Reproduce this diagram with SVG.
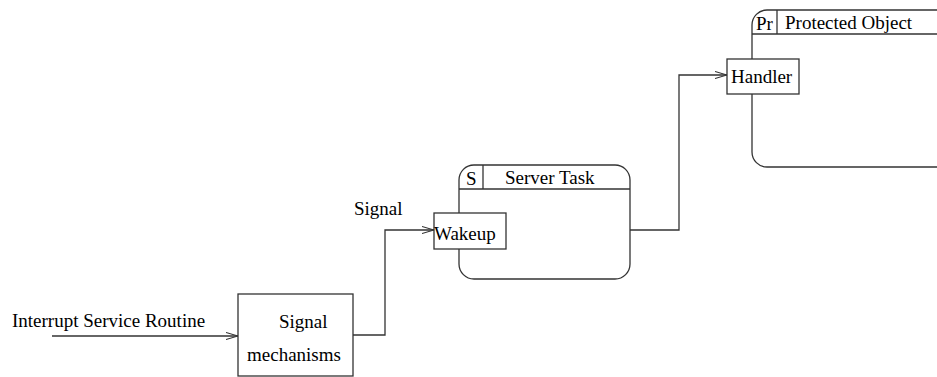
<svg xmlns="http://www.w3.org/2000/svg" width="937" height="377" viewBox="0 0 937 377">
  <style>
    .shape { fill: #ffffff; stroke: #333333; stroke-width: 1.3; }
    .line { fill: none; stroke: #333333; stroke-width: 1.3; }
    .label { font-family: "Liberation Serif", "DejaVu Serif", serif; font-size: 19px; fill: #000000; }
  </style>
  <defs>
    <marker id="openArrow" viewBox="0 0 12 8" refX="12" refY="4" markerWidth="12" markerHeight="8" markerUnits="userSpaceOnUse" orient="auto">
      <path d="M0,0.5 L12,4 L0,7.5" fill="none" stroke="#333333" stroke-width="1.1"/>
    </marker>
  </defs>

  <!-- Protected Object -->
  <g id="protected-object">
    <rect class="shape" x="752" y="10" width="200" height="157" rx="15" ry="15"/>
    <line class="line" x1="752" y1="34" x2="937" y2="34"/>
    <line class="line" x1="777" y1="10" x2="777" y2="34"/>
    <text class="label" x="756" y="30">Pr</text>
    <text class="label" x="785" y="29">Protected Object</text>
  </g>

  <g id="handler">
    <rect class="shape" x="727" y="59" width="72" height="35"/>
    <text class="label" x="731" y="83">Handler</text>
  </g>

  <!-- Server Task -->
  <g id="server-task">
    <rect class="shape" x="459" y="165" width="171" height="114" rx="15" ry="15"/>
    <line class="line" x1="459" y1="189" x2="630" y2="189"/>
    <line class="line" x1="483" y1="165" x2="483" y2="189"/>
    <text class="label" x="466" y="185">S</text>
    <text class="label" x="505" y="184">Server Task</text>
  </g>

  <g id="wakeup">
    <rect class="shape" x="434" y="213" width="72" height="36"/>
    <text class="label" x="434" y="240">Wakeup</text>
  </g>

  <!-- Signal mechanisms -->
  <g id="signal-mechanisms">
    <rect class="shape" x="238" y="294" width="115" height="82"/>
    <text class="label" x="279" y="328">Signal</text>
    <text class="label" x="247" y="361">mechanisms</text>
  </g>

  <!-- Connectors -->
  <g id="connectors">
    <line class="line" x1="52" y1="336" x2="238" y2="336" marker-end="url(#openArrow)"/>
    <polyline class="line" points="353,335 385,335 385,230 434,230" marker-end="url(#openArrow)"/>
    <polyline class="line" points="630,230 679,230 679,75 727,75" marker-end="url(#openArrow)"/>
    <text class="label" x="12" y="327">Interrupt Service Routine</text>
    <text class="label" x="354" y="215">Signal</text>
  </g>
</svg>
